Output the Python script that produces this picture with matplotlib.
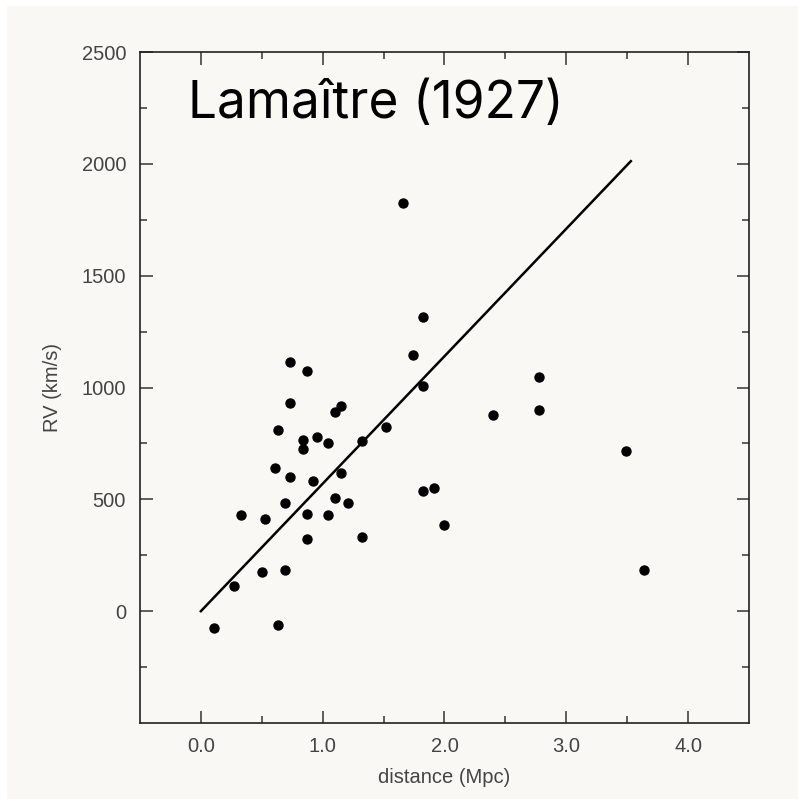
import numpy as np
import matplotlib
matplotlib.use("Agg")
import matplotlib.pyplot as plt
from matplotlib.patches import Rectangle

# Lemaitre 1927 galaxies
distance = [0.73, 0.87, 0.73, 1.15, 1.10, 0.63, 0.95, 0.84, 1.04, 0.84,
            1.52, 0.61, 0.73, 1.15, 0.92, 1.10, 1.21, 0.69, 0.33, 0.53,
            0.87, 1.04, 1.32, 0.87, 1.32, 0.50, 0.69, 0.27, 0.11, 0.63,
            1.66, 1.82, 1.74, 1.82, 2.78, 2.78, 2.40, 1.82, 1.91, 2.00,
            3.49, 3.64]
velocity = [1113, 1072, 931, 918, 889, 810, 777, 766, 752, 725,
            825, 640, 601, 616, 583, 504, 483, 483, 430, 412,
            434, 431, 762, 322, 332, 173, 185, 113, -77, -63,
            1824, 1317, 1147, 1008, 1046, 901, 877, 536, 549, 386,
            717, 185]

fit_x = [0.0, 3.53]
fit_y = [0.0, 2012.0]

bg = "#faf8f5"
fig = plt.figure(figsize=(7.98, 7.99), dpi=100, facecolor=bg)
# thin white strips left by the scan at the top and left edge
fig.patches.append(Rectangle((0, 1 - 6 / 799), 1, 6 / 799, transform=fig.transFigure,
                             facecolor="white", edgecolor="none"))
fig.patches.append(Rectangle((0, 0), 7 / 798, 1, transform=fig.transFigure,
                             facecolor="white", edgecolor="none"))

ax = fig.add_axes([0.1754, 0.0951, 0.7632, 0.8398])
ax.set_facecolor(bg)

ax.plot(fit_x, fit_y, color="black", lw=1.8)
ax.scatter(distance, velocity, s=42, color="black", zorder=3)

ax.set_xlim(-0.5, 4.5)
ax.set_ylim(-500, 2500)
ax.set_xticks([0, 1, 2, 3, 4])
ax.set_xticklabels(["0.0", "1.0", "2.0", "3.0", "4.0"])
ax.set_xticks(np.arange(0.5, 4.5, 1.0), minor=True)
ax.set_yticks([0, 500, 1000, 1500, 2000, 2500])
ax.set_yticks([-250, 250, 750, 1250, 1750, 2250], minor=True)

for s in ax.spines.values():
    s.set_linewidth(1.2)
    s.set_color("#222222")

ax.tick_params(which="both", direction="in", top=True, right=True,
               width=1.1, color="#333333")
ax.tick_params(which="major", length=9, labelsize=14.5, labelcolor="#444444", pad=10)
ax.tick_params(which="minor", length=5)
for lab in ax.get_xticklabels() + ax.get_yticklabels():
    lab.set_family("Liberation Sans")

ax.set_xlabel("distance (Mpc)", fontsize=14.5, color="#444444", family="Liberation Sans")
ax.set_ylabel("RV (km/s)", fontsize=14.5, color="#444444", family="Liberation Sans")
ax.xaxis.set_label_coords(0.5, -0.067)
ax.yaxis.set_label_coords(-0.128, 0.5)

fig.text(188 / 798, 1 - 118 / 799, "Lamaître (1927)", fontsize=37,
         family="Inter", ha="left", va="baseline", color="black")

fig.savefig("out.png", dpi=100, facecolor=fig.get_facecolor())
